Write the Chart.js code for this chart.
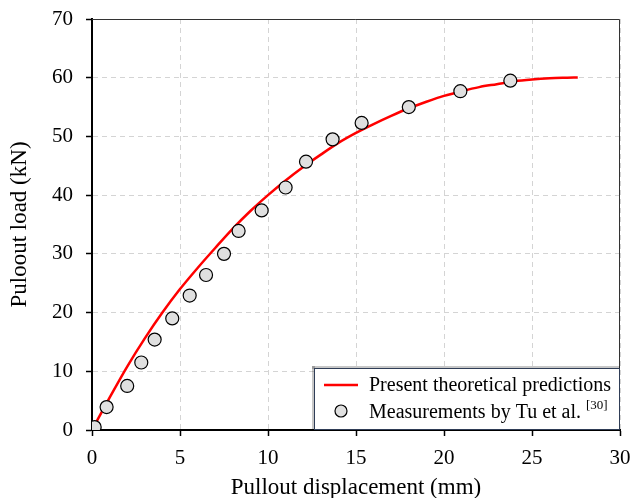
<!DOCTYPE html>
<html>
<head>
<meta charset="utf-8">
<script src="https://cdn.jsdelivr.net/npm/chart.js@4.4.1/dist/chart.umd.min.js"></script>
<style>
  html, body { margin: 0; padding: 0; background: #fff; }
  #wrap { width: 630px; height: 498px; }
</style>
</head>
<body>
<div id="wrap"><canvas id="pullChart" width="630" height="498"></canvas></div>
<script>
// ================== DATA ==================
const curveX = [0, 1, 2, 3, 4, 5, 6, 7, 8, 9, 10, 11, 12, 13, 14, 15, 16, 17, 18, 19, 20, 21, 22, 23, 24, 25, 26, 27, 27.6];
const curveY = [0, 5.5, 10.8, 15.6, 20.0, 24.0, 27.6, 31.0, 34.3, 37.3, 40.0, 42.5, 44.8, 46.9, 48.9, 50.6, 52.1, 53.5, 54.8, 55.9, 56.9, 57.7, 58.4, 58.9, 59.4, 59.7, 59.9, 60.0, 60.05];

const measX = [0.15, 0.83, 2.0, 2.8, 3.56, 4.56, 5.55, 6.48, 7.5, 8.33, 9.64, 11.0, 12.16, 13.67, 15.32, 18.0, 20.93, 23.77];
const measY = [0.5, 3.9, 7.5, 11.5, 15.4, 19.0, 22.9, 26.4, 30.0, 33.9, 37.4, 41.3, 45.7, 49.5, 52.3, 55.0, 57.7, 59.5];

const xTicks = [0, 5, 10, 15, 20, 25, 30];
const yTicks = [0, 10, 20, 30, 40, 50, 60, 70];

const legendLabels = ["Present theoretical predictions", "Measurements by Tu et al. "];
const legendRef = "[30]";

const FONT = "'Liberation Serif', 'Times New Roman', serif";

// ================== PLUGINS ==================
// top / right frame of the plot box
const frame = {
  id: "frame",
  afterDatasetsDraw(chart) {
    const { ctx, chartArea: a } = chart;
    ctx.save();
    ctx.strokeStyle = "#333";
    ctx.lineWidth = 1;
    ctx.beginPath();
    ctx.moveTo(a.left, a.top + 0.5);
    ctx.lineTo(a.right - 0.5, a.top + 0.5);
    ctx.lineTo(a.right - 0.5, a.bottom);
    ctx.stroke();
    ctx.restore();
  },
};

// legend box in the lower right corner, with the reference superscript
const boxLegend = {
  id: "boxLegend",
  afterDraw(chart) {
    const { ctx, chartArea: a } = chart;
    const x0 = 314, y0 = 368, w = a.right - 314, h = a.bottom - 368 - 1;
    ctx.save();
    // shadow
    ctx.fillStyle = "rgba(0,0,0,0.22)";
    ctx.fillRect(x0 - 2, y0 - 2, 3, h + 2);
    ctx.fillRect(x0 - 2, y0 - 2, w + 2, 3);
    ctx.fillStyle = "#fff";
    ctx.fillRect(x0, y0, w, h);
    ctx.strokeStyle = "#2f3d56";
    ctx.lineWidth = 1;
    ctx.strokeRect(x0 + 0.5, y0 + 0.5, w - 1, h);

    // line sample
    ctx.strokeStyle = "#ff0000";
    ctx.lineWidth = 2.5;
    ctx.beginPath();
    ctx.moveTo(324, 385);
    ctx.lineTo(358, 385);
    ctx.stroke();

    // point sample
    ctx.fillStyle = "#e0e0e0";
    ctx.strokeStyle = "#000";
    ctx.lineWidth = 1.2;
    ctx.beginPath();
    ctx.arc(341, 411, 6, 0, Math.PI * 2);
    ctx.fill();
    ctx.stroke();

    ctx.fillStyle = "#000";
    ctx.textBaseline = "middle";
    ctx.font = "20px " + FONT;
    ctx.fillText(legendLabels[0], 369, 386);
    ctx.fillText(legendLabels[1], 369, 413);
    const tw = ctx.measureText(legendLabels[1]).width;
    ctx.font = "13px " + FONT;
    ctx.fillText(legendRef, 369 + tw, 406);
    ctx.restore();
  },
};

// ================== CHART ==================
const ctx = document.getElementById("pullChart").getContext("2d");

new Chart(ctx, {
  type: "scatter",
  data: {
    datasets: [
      {
        type: "line",
        label: legendLabels[0],
        data: curveX.map((x, i) => ({ x, y: curveY[i] })),
        borderColor: "#ff0000",
        borderWidth: 2.5,
        pointRadius: 0,
        cubicInterpolationMode: "monotone",
        fill: false,
        order: 2,
      },
      {
        label: legendLabels[1],
        data: measX.map((x, i) => ({ x, y: measY[i] })),
        backgroundColor: "#e0e0e0",
        borderColor: "#000",
        borderWidth: 1.2,
        pointRadius: 6.5,
        order: 1,
      },
    ],
  },
  options: {
    responsive: false,
    animation: false,
    layout: { padding: { top: 19, right: 10, left: 0, bottom: 0 } },
    plugins: {
      legend: { display: false },
      tooltip: { enabled: false },
    },
    scales: {
      x: {
        type: "linear",
        min: 0,
        max: 30,
        afterBuildTicks: (s) => { s.ticks = xTicks.map((v) => ({ value: v })); },
        afterFit: (s) => {
          s.height = 68;
          s.paddingLeft = 0;
          s.paddingRight = 0;
        },
        grid: {
          color: "#d4d4d4",
          lineWidth: 1,
          drawTicks: true,
          tickLength: 6,
          tickColor: "#000",
          tickWidth: 1.5,
        },
        border: { color: "#000", width: 2, dash: [5, 4] },
        ticks: {
          color: "#000",
          padding: 10,
          font: { family: FONT, size: 21 },
        },
        title: {
          display: true,
          text: "Pullout displacement (mm)",
          color: "#000",
          padding: { top: 0, bottom: -4 },
          font: { family: FONT, size: 23 },
        },
      },
      y: {
        type: "linear",
        min: 0,
        max: 70,
        afterBuildTicks: (s) => { s.ticks = yTicks.map((v) => ({ value: v })); },
        afterFit: (s) => {
          s.width = 92;
          s.paddingTop = 0;
          s.paddingBottom = 0;
        },
        grid: {
          color: "#d4d4d4",
          lineWidth: 1,
          drawTicks: true,
          tickLength: 6,
          tickColor: "#000",
          tickWidth: 1.5,
        },
        border: { color: "#000", width: 2, dash: [5, 4] },
        ticks: {
          color: "#000",
          padding: 13,
          font: { family: FONT, size: 21 },
        },
        title: {
          display: true,
          text: "Puloout load (kN)",
          color: "#000",
          padding: { top: 6, bottom: 0 },
          font: { family: FONT, size: 23 },
        },
      },
    },
  },
  plugins: [frame, boxLegend],
});
</script>
</body>
</html>
